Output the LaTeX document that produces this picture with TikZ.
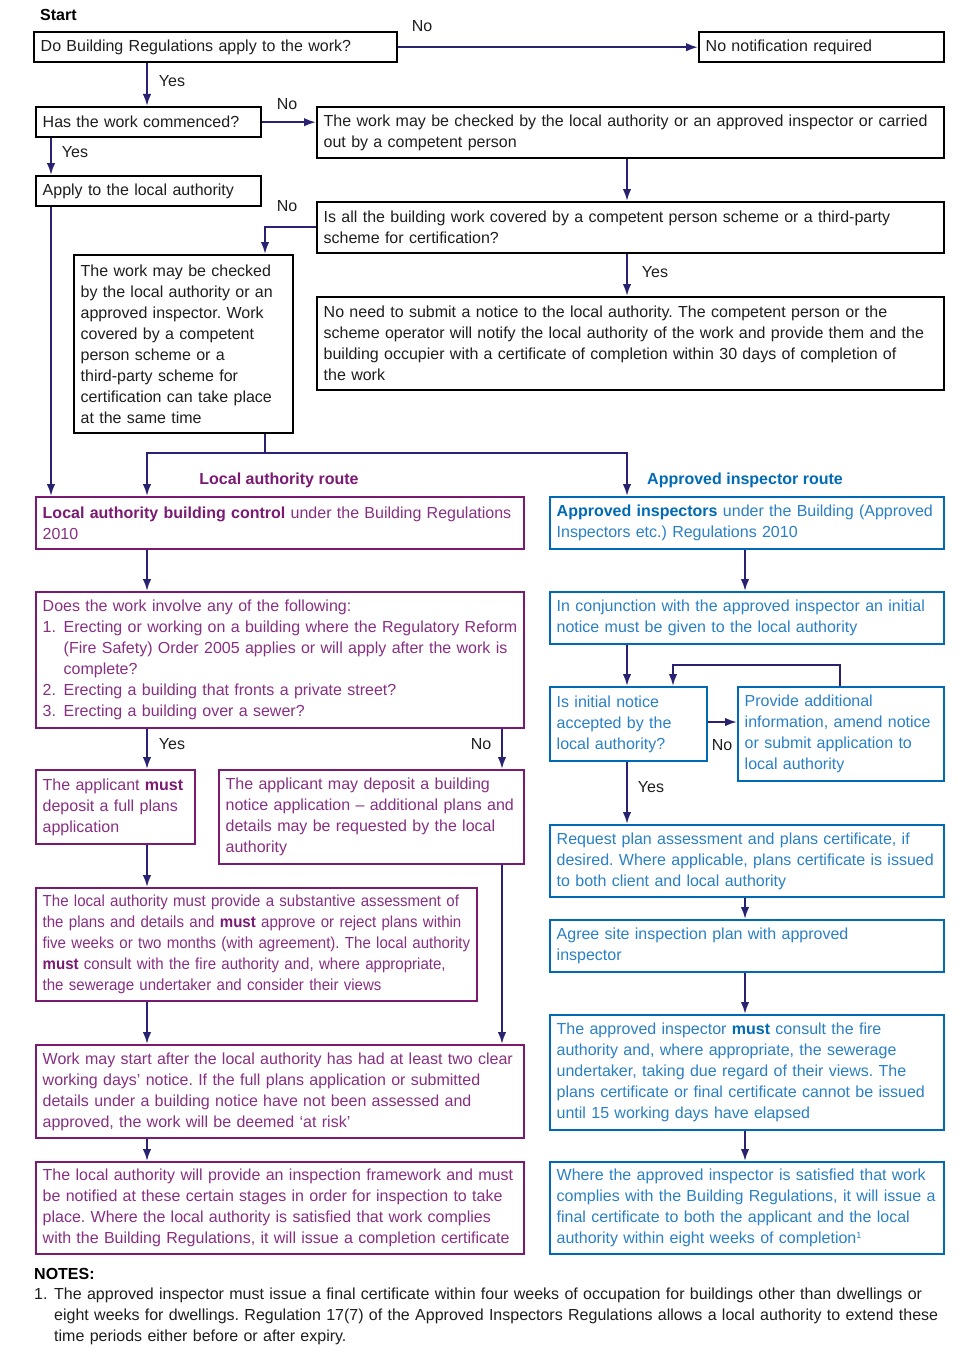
\documentclass[tikz,border=0pt]{standalone}
\usepackage{fontspec}
\setmainfont{Liberation Sans}
\newfontfamily\condfont[FakeStretch=0.94]{Liberation Sans}
\usetikzlibrary{arrows.meta}
\definecolor{arrc}{RGB}{40,34,112}
\definecolor{purp}{RGB}{122,26,114}
\definecolor{purpt}{RGB}{135,48,130}
\definecolor{blu}{RGB}{0,106,180}
\definecolor{blut}{RGB}{42,128,196}
\definecolor{txt}{RGB}{30,30,30}
\frenchspacing
\begin{document}
\begin{tikzpicture}[x=1pt,y=-1pt,
  every node/.style={font=\fontsize{16}{21}\selectfont},
  boxbase/.style={draw, line width=2.4pt, anchor=north west, align=left, inner xsep=6.5pt, inner ysep=3pt},
  bk/.style={boxbase, draw=black, text=txt},
  pu/.style={boxbase, draw=purp, text=purpt},
  bl/.style={boxbase, draw=blu, text=blut},
  arr/.style={draw=arrc, line width=2pt, -{Latex[length=12pt,width=8.5pt]}},
  ln/.style={draw=arrc, line width=2pt},
  lbl/.style={text=txt, inner sep=0pt},
  rt/.style={inner sep=0pt, font=\fontsize{16}{21}\selectfont\bfseries},
]
\useasboundingbox[fill=white] (0,0) rectangle (965,1370);

% ---------- top part (black) ----------
\node[rt, text=black, anchor=base west] (start) at (40,21) {Start};
\node[bk, minimum width=363pt, minimum height=30pt, text width=350pt] (A) at (33,31) {Do Building Regulations apply to the work?};
\node[bk, minimum width=245pt, minimum height=30pt, text width=232pt] (B) at (698,31) {No notification required};
\node[bk, minimum width=225pt, minimum height=30pt, text width=212pt] (C) at (35,106) {Has the work commenced?};
\node[bk, minimum width=627pt, minimum height=51pt, text width=614pt] (D) at (316,106) {The work may be checked by the local authority or an approved inspector or carried\\out by a competent person};
\node[bk, minimum width=225pt, minimum height=30pt, text width=212pt] (E) at (35,175) {Apply to the local authority};
\node[bk, minimum width=627pt, minimum height=51pt, text width=614pt] (F) at (316,201) {Is all the building work covered by a competent person scheme or a third-party\\scheme for certification?};
\node[bk, minimum width=219pt, minimum height=178pt, text width=206pt] (G) at (73,254) {The work may be checked\\by the local authority or an\\approved inspector. Work\\covered by a competent\\person scheme or a\\third-party scheme for\\certification can take place\\at the same time};
\node[bk, minimum width=627pt, minimum height=93pt, text width=614pt] (H) at (316,296) {No need to submit a notice to the local authority. The competent person or the\\scheme operator will notify the local authority of the work and provide them and the\\building occupier with a certificate of completion within 30 days of completion of\\the work};

% labels
\node[lbl] (l1) at (422,26) {No};
\node[lbl] (l2) at (172,81) {Yes};
\node[lbl] (l3) at (287,104) {No};
\node[lbl] (l4) at (75,152) {Yes};
\node[lbl] (l5) at (287,206) {No};
\node[lbl] (l6) at (655,272) {Yes};

% connectors top
\draw[arr] (A.east) -- (A.east -| B.west);
\draw[arr] (147,0 |- A.south) -- (147,0 |- C.north);
\draw[arr] (C.east) -- (C.east -| D.west);
\draw[arr] (51,0 |- C.south) -- (51,0 |- E.north);
\draw[arr] (627,0 |- D.south) -- (627,0 |- F.north);
\draw[arr] (F.west |- 0,227) -| (265,0 |- G.north);
\draw[arr] (627,0 |- F.south) -- (627,0 |- H.north);

% ---------- route headings ----------
\node[rt, text=purp] (lar) at (279,480) {Local authority route};
\node[rt, text=blu] (air) at (745,480) {Approved inspector route};

% ---------- local authority route ----------
\node[pu, minimum width=488pt, minimum height=52pt, text width=475pt] (I) at (35,496) {\textcolor{purp}{\bfseries Local authority building control} under the Building Regulations\\2010};
\node[pu, minimum width=488pt, minimum height=136pt, text width=475pt] (K) at (35,591) {Does the work involve any of the following:\\\makebox[21pt][l]{1.}Erecting or working on a building where the Regulatory Reform\\\hspace*{21pt}(Fire Safety) Order 2005 applies or will apply after the work is\\\hspace*{21pt}complete?\\\makebox[21pt][l]{2.}Erecting a building that fronts a private street?\\\makebox[21pt][l]{3.}Erecting a building over a sewer?};
\node[pu, minimum width=159pt, minimum height=74pt, text width=146pt] (L) at (35,769) {The applicant \textcolor{purp}{\bfseries must}\\deposit a full plans\\application};
\node[pu, minimum width=305pt, minimum height=94pt, text width=292pt] (M) at (218,769) {The applicant may deposit a building\\notice application – additional plans and\\details may be requested by the local\\authority};
\node[pu, minimum width=441pt, minimum height=113pt, text width=428pt, font=\condfont\fontsize{16}{21}\selectfont] (N) at (35,887) {The local authority must provide a substantive assessment of\\the plans and details and \textcolor{purp}{\bfseries must} approve or reject plans within\\five weeks or two months (with agreement). The local authority\\\textcolor{purp}{\bfseries must} consult with the fire authority and, where appropriate,\\the sewerage undertaker and consider their views};
\node[pu, minimum width=488pt, minimum height=93pt, text width=475pt] (O) at (35,1044) {Work may start after the local authority has had at least two clear\\working days’ notice. If the full plans application or submitted\\details under a building notice have not been assessed and\\approved, the work will be deemed ‘at risk’};
\node[pu, minimum width=488pt, minimum height=92pt, text width=475pt] (P) at (35,1161) {The local authority will provide an inspection framework and must\\be notified at these certain stages in order for inspection to take\\place. Where the local authority is satisfied that work complies\\with the Building Regulations, it will issue a completion certificate};

% ---------- approved inspector route ----------
\node[bl, minimum width=394pt, minimum height=52pt, text width=381pt] (J) at (549,496) {\textcolor{blu}{\bfseries Approved inspectors} under the Building (Approved\\Inspectors etc.) Regulations 2010};
\node[bl, minimum width=394pt, minimum height=52pt, text width=381pt] (Q) at (549,591) {In conjunction with the approved inspector an initial\\notice must be given to the local authority};
\node[bl, minimum width=157pt, minimum height=74pt, text width=144pt] (R) at (549,686) {Is initial notice\\accepted by the\\local authority?};
\node[bl, minimum width=206pt, minimum height=94pt, text width=193pt] (S) at (737,686) {Provide additional\\information, amend notice\\or submit application to\\local authority};
\node[bl, minimum width=394pt, minimum height=72pt, text width=381pt] (T) at (549,824) {Request plan assessment and plans certificate, if\\desired. Where applicable, plans certificate is issued\\to both client and local authority};
\node[bl, minimum width=394pt, minimum height=52pt, text width=381pt] (U) at (549,919) {Agree site inspection plan with approved\\inspector};
\node[bl, minimum width=394pt, minimum height=115pt, text width=381pt] (V) at (549,1014) {The approved inspector \textcolor{blu}{\bfseries must} consult the fire\\authority and, where appropriate, the sewerage\\undertaker, taking due regard of their views. The\\plans certificate or final certificate cannot be issued\\until 15 working days have elapsed};
\node[bl, minimum width=394pt, minimum height=92pt, text width=381pt] (W) at (549,1161) {Where the approved inspector is satisfied that work\\complies with the Building Regulations, it will issue a\\final certificate to both the applicant and the local\\authority within eight weeks of completion\raisebox{5pt}{\fontsize{9}{9}\selectfont 1}};

% labels middle
\node[lbl] (l7) at (172,744) {Yes};
\node[lbl] (l8) at (481,744) {No};
\node[lbl] (l9) at (722,745) {No};
\node[lbl] (l10) at (651,787) {Yes};

% connectors middle
\draw[arr] (51,0 |- E.south) -- (51,0 |- I.north);
\coordinate (split) at (265,453);
\draw[ln] (split |- G.south) -- (split);
\draw[arr] (split) -| (147,0 |- I.north);
\draw[arr] (split) -| (627,0 |- J.north);

\draw[arr] (147,0 |- I.south) -- (147,0 |- K.north);
\draw[arr] (147,0 |- K.south) -- (147,0 |- L.north);
\draw[arr] (502,0 |- K.south) -- (502,0 |- M.north);
\draw[arr] (147,0 |- L.south) -- (147,0 |- N.north);
\draw[arr] (147,0 |- N.south) -- (147,0 |- O.north);
\draw[arr] (502,0 |- M.south) -- (502,0 |- O.north);
\draw[arr] (147,0 |- O.south) -- (147,0 |- P.north);

\draw[arr] (745,0 |- J.south) -- (745,0 |- Q.north);
\draw[arr] (627,0 |- Q.south) -- (627,0 |- R.north);
\draw[arr] (R.east |- 0,722) -- (S.west |- 0,722);
\coordinate (loop) at (840,665);
\draw[arr] (loop |- S.north) -- (loop) -| (673,0 |- R.north);
\draw[arr] (627,0 |- R.south) -- (627,0 |- T.north);
\draw[arr] (745,0 |- T.south) -- (745,0 |- U.north);
\draw[arr] (745,0 |- U.south) -- (745,0 |- V.north);
\draw[arr] (745,0 |- V.south) -- (745,0 |- W.north);

% ---------- notes ----------
\node[rt, text=black, anchor=base west] (notes) at (34,1279) {NOTES:};
\node[anchor=north west, inner sep=0pt, align=left, text=txt, text width=920pt] (note1) at (34,1288) {\makebox[20pt][l]{1.}The approved inspector must issue a final certificate within four weeks of occupation for buildings other than dwellings or\\\hspace*{20pt}eight weeks for dwellings. Regulation 17(7) of the Approved Inspectors Regulations allows a local authority to extend these\\\hspace*{20pt}time periods either before or after expiry.};
\end{tikzpicture}
\end{document}
